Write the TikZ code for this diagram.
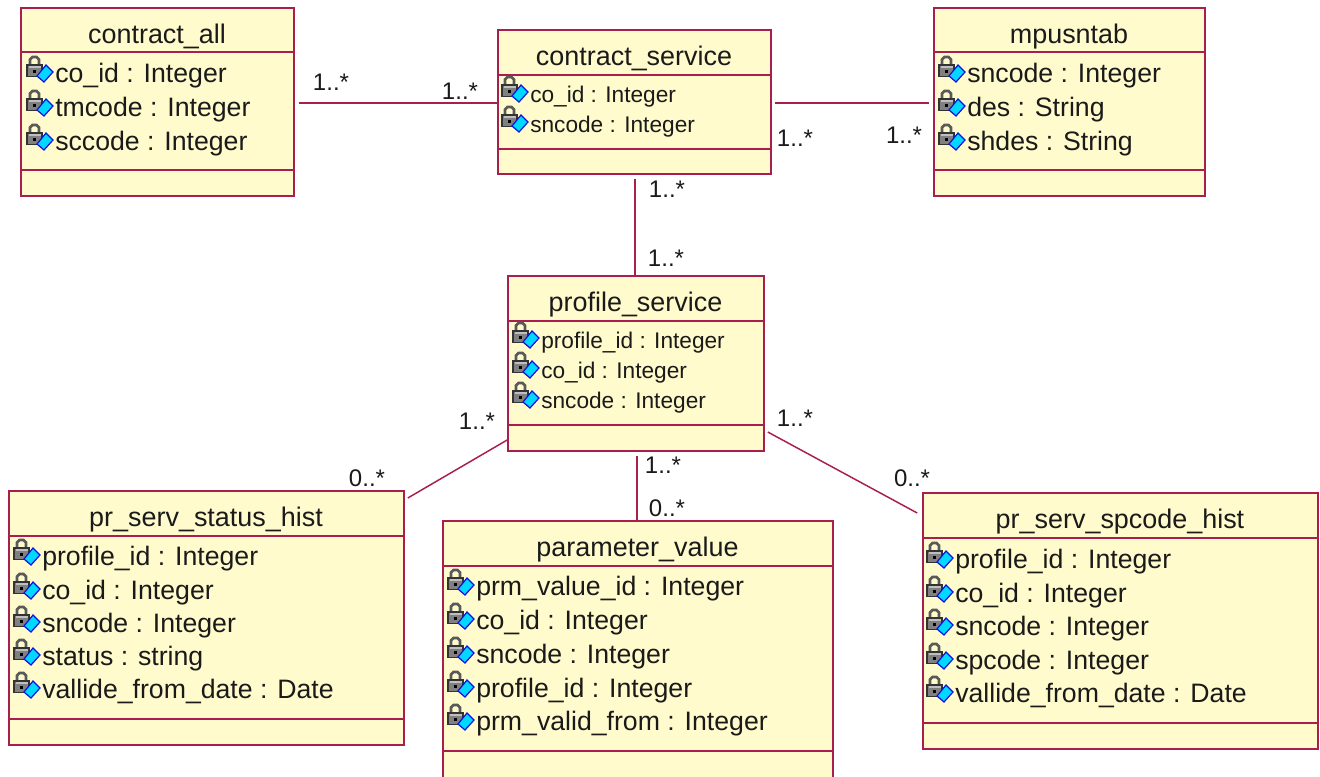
\documentclass[tikz,border=0pt]{standalone}
\usepackage{fontspec}
\setmainfont{Liberation Sans}
\usetikzlibrary{fit}
\definecolor{umlfill}{HTML}{FFFBCC}
\definecolor{umlline}{HTML}{A81E4E}
\definecolor{umltext}{HTML}{1A1A1A}
\definecolor{umlcyan}{HTML}{00D8FF}
\definecolor{umlblue}{HTML}{1010E0}
\tikzset{
  umlbox/.style={draw=umlline,fill=umlfill,line width=1.3pt,inner sep=0pt,rectangle},
  umlsep/.style={draw=umlline,line width=1.1pt},
  assoc/.style={draw=umlline,line width=1.1pt},
  umltitle/.style={text=umltext,font=\fontsize{20.2}{24}\selectfont,anchor=base,inner sep=0pt},
  attrbig/.style={text=umltext,font=\fontsize{20}{24}\selectfont,anchor=base west,inner sep=0pt},
  attrsmall/.style={text=umltext,font=\fontsize{17}{20}\selectfont,anchor=base west,inner sep=0pt},
  mult/.style={text=umltext,font=\fontsize{18}{20}\selectfont,anchor=base,inner sep=0pt},
  pics/attricon/.style={code={
    \draw[black!65,line width=2pt] (-25,-17) -- (-25,-23.5) -- (-22.5,-26) -- (-18.5,-26) -- (-16,-23.5) -- (-16,-17);
    \fill[black!50,draw=black!80,line width=0.8pt] (-28,-18) rectangle (-13,-6.5);
    \fill[black!25] (-26.5,-17) rectangle (-14.5,-15);
    \fill[black] (-22,-13) rectangle (-19,-10);
    \fill[umlcyan,draw=umlblue,line width=0.9pt] (-2,-11)--(-11,-1)--(-18,-7)--(-9,-18)--cycle;
  }}
}
\newcommand{\umlclass}[8]{%
  \node[umlbox,fit={(#2,#3)(#4,#5)}] (#1) {};
  \draw[umlsep] (#2,#6) -- (#4,#6);
  \draw[umlsep] (#2,#7) -- (#4,#7);
  \node[umltitle] (#1-title) at ({(#2+#4)/2-0.5},#3+35) {#8};
}
\newcommand{\attr}[5]{% name, style, x, baseline, text
  \pic at (#3,#4) {attricon};
  \node[#2] (#1) at (#3,#4-1) {#5};
}
\begin{document}
\begin{tikzpicture}[x=0.75pt,y=-0.75pt]
\clip (0,0) rectangle (1320,776);
\fill[white] (0,0) rectangle (1320,776);

\umlclass{all}{21}{8}{294}{196}{52}{170}{contract\_all}
\umlclass{svc}{498}{30}{771}{174}{75}{149}{contract\_service}
\umlclass{mpu}{934}{8}{1205}{196}{52}{170}{mpusntab}
\umlclass{prof}{508}{276}{764}{451}{321}{425}{profile\_service}
\umlclass{stat}{9}{491}{404}{745}{536}{719}{pr\_serv\_status\_hist}
\umlclass{par}{443}{521}{833}{800}{566}{751}{parameter\_value}
\umlclass{spc}{923}{493}{1318}{749}{538}{723}{pr\_serv\_spcode\_hist}

\attr{a1}{attrbig}{55}{83}{co\_id : Integer}
\attr{a2}{attrbig}{55}{117}{tmcode : Integer}
\attr{a3}{attrbig}{55}{151}{sccode : Integer}

\attr{b1}{attrsmall}{530}{103}{co\_id : Integer}
\attr{b2}{attrsmall}{530}{133}{sncode : Integer}

\attr{c1}{attrbig}{967}{83}{sncode : Integer}
\attr{c2}{attrbig}{967}{117}{des : String}
\attr{c3}{attrbig}{967}{151}{shdes : String}

\attr{d1}{attrsmall}{541}{349}{profile\_id : Integer}
\attr{d2}{attrsmall}{541}{379}{co\_id : Integer}
\attr{d3}{attrsmall}{541}{409}{sncode : Integer}

\attr{e1}{attrbig}{42}{566}{profile\_id : Integer}
\attr{e2}{attrbig}{42}{600}{co\_id : Integer}
\attr{e3}{attrbig}{42}{633}{sncode : Integer}
\attr{e4}{attrbig}{42}{666}{status : string}
\attr{e5}{attrbig}{42}{699}{vallide\_from\_date : Date}

\attr{f1}{attrbig}{476}{596}{prm\_value\_id : Integer}
\attr{f2}{attrbig}{476}{630}{co\_id : Integer}
\attr{f3}{attrbig}{476}{664}{sncode : Integer}
\attr{f4}{attrbig}{476}{698}{profile\_id : Integer}
\attr{f5}{attrbig}{476}{731}{prm\_valid\_from : Integer}

\attr{g1}{attrbig}{955}{569}{profile\_id : Integer}
\attr{g2}{attrbig}{955}{603}{co\_id : Integer}
\attr{g3}{attrbig}{955}{636}{sncode : Integer}
\attr{g4}{attrbig}{955}{670}{spcode : Integer}
\attr{g5}{attrbig}{955}{703}{vallide\_from\_date : Date}

\draw[assoc] ([xshift=3pt]all.east |- 0,103) -- (svc.west |- 0,103);
\draw[assoc] ([xshift=2.2pt]svc.east |- 0,103) -- ([xshift=-3pt]mpu.west |- 0,103);
\draw[assoc] ([yshift=-3pt]svc.south -| 635,0) -- (prof.north -| 635,0);
\draw[assoc] ([yshift=-3pt]prof.south -| 637,0) -- (par.north -| 637,0);
\draw[assoc] (prof.west |- 0,440) -- ([xshift=2.2pt]stat.east |- 0,498);
\draw[assoc] ([xshift=2.2pt]prof.east |- 0,432) -- ([xshift=-3.7pt]spc.west |- 0,513);

\node[mult] (m1) at (331,90.5) {1..*};
\node[mult] (m2) at (460,99.5) {1..*};
\node[mult] (m3) at (795,146.5) {1..*};
\node[mult] (m4) at (904,143.5) {1..*};
\node[mult] (m5) at (667,197.5) {1..*};
\node[mult] (m6) at (666,266.5) {1..*};
\node[mult] (m7) at (477,429.5) {1..*};
\node[mult] (m8) at (367,486.5) {0..*};
\node[mult] (m9) at (795,426.5) {1..*};
\node[mult] (m10) at (912,486.5) {0..*};
\node[mult] (m11) at (663,473.5) {1..*};
\node[mult] (m12) at (667,516.5) {0..*};
\end{tikzpicture}
\end{document}
